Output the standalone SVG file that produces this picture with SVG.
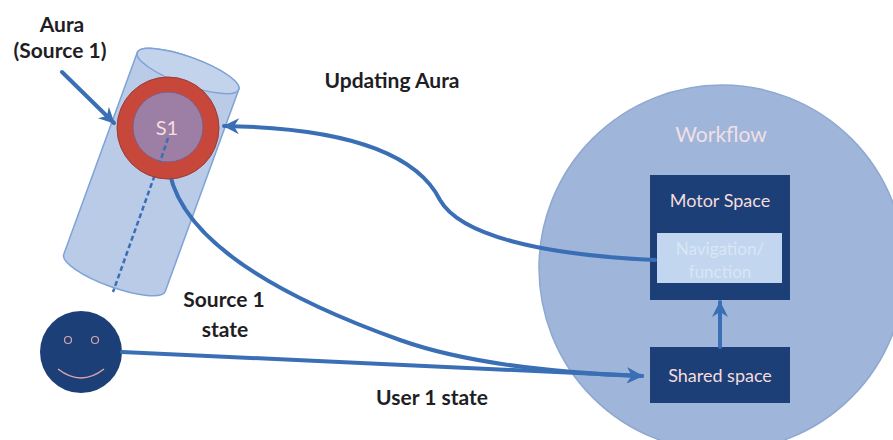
<svg xmlns="http://www.w3.org/2000/svg" width="893" height="440" viewBox="0 0 893 440">
<defs>
<style>
.lbl{font-family:Lato,"Open Sans","DejaVu Sans",sans-serif;font-weight:bold;font-size:21px;fill:#1e1e24;text-anchor:middle}
.box{fill:#1d3f78}
.boxt{font-family:Lato,"Open Sans","DejaVu Sans",sans-serif;font-size:18px;fill:#f3dcdc;text-anchor:middle}
.con{fill:none;stroke:#3a6fb5;stroke-width:4;stroke-linecap:round}
.dash{fill:none;stroke:#3a6fb5;stroke-width:2.5;stroke-dasharray:5,3;stroke-linecap:butt}
</style>
<marker id="ah" viewBox="0 0 17 16" refX="15" refY="8" markerWidth="17" markerHeight="16" markerUnits="userSpaceOnUse" orient="auto">
<path d="M0,0 L16,8 L0,16 L5,8 Z" fill="#3a6fb5"/>
</marker>
</defs>
<rect width="893" height="440" fill="#ffffff"/>

<g id="workflow">
<circle cx="722" cy="268" r="183" fill="#9fb5da" stroke="#8fa8d2" stroke-width="1.5"/>
<text x="721" y="142" font-family="Lato,'Open Sans','DejaVu Sans',sans-serif" font-size="21" fill="#f1e0e4" text-anchor="middle">Workflow</text>
</g>

<g id="motor-space">
<rect class="box" x="650" y="175" width="140" height="125"/>
<text class="boxt" x="720" y="207">Motor Space</text>
</g>

<g id="navigation-function">
<rect x="657" y="233" width="125" height="50" fill="#c2d6ef"/>
<text x="720" y="255" font-family="Lato,'Open Sans','DejaVu Sans',sans-serif" font-size="17" fill="#d9e6f5" text-anchor="middle">Navigation/</text>
<text x="720" y="278" font-family="Lato,'Open Sans','DejaVu Sans',sans-serif" font-size="17" fill="#d9e6f5" text-anchor="middle">function</text>
</g>

<g id="shared-space">
<rect class="box" x="650" y="347" width="140" height="56"/>
<text class="boxt" x="720" y="382">Shared space</text>
</g>

<g id="cylinder">
<g transform="translate(188,71) rotate(20)">
<path d="M-54,0 L-54,215 A54 14 0 0 0 54,215 L54,0 A54 14 0 0 0 -54,0 Z" fill="#b9cbe7" stroke="#7ea3d6" stroke-width="1.5"/>
<ellipse cx="0" cy="0" rx="54" ry="14" fill="#c3d3ec" stroke="#7ea3d6" stroke-width="1.5"/>
</g>
</g>

<g id="user">
<circle cx="81" cy="352" r="41" fill="#1d3f78"/>
<circle cx="68" cy="340" r="3.5" fill="none" stroke="#d9a4aa" stroke-width="1.2"/>
<circle cx="95" cy="340" r="3.5" fill="none" stroke="#d9a4aa" stroke-width="1.2"/>
<path d="M58,369 Q81,387 104,369" fill="none" stroke="#d9a4aa" stroke-width="1.5"/>
</g>

<g id="connectors">
<path class="dash" d="M168,138 L113,292"/>
<path class="con" d="M62,72 L114,123" stroke-width="3" marker-end="url(#ah)"/>
<path class="con" d="M655,260 C540,255 460,235 440,200 C420,160 360,128 224,126" marker-end="url(#ah)"/>
<path class="con" d="M168,160 C172,230 260,290 400,340 C470,365 560,373 642,376" marker-end="url(#ah)"/>
<path class="con" d="M122,352 L642,376" marker-end="url(#ah)"/>
<path class="con" d="M720,347 L720,302" marker-end="url(#ah)"/>
</g>

<g id="aura">
<circle cx="168" cy="128" r="51" fill="#c8473b" stroke="#9a3a3a" stroke-width="1"/>
<circle cx="168" cy="127" r="35" fill="#9d7ea4" stroke="#7d5f86" stroke-width="1"/>
<text x="167" y="135" font-family="Lato,'Open Sans','DejaVu Sans',sans-serif" font-size="20" fill="#f4dede" text-anchor="middle">S1</text>
<path class="dash" d="M168,138 L160,162"/>
</g>

<g id="labels">
<text class="lbl" x="62" y="32">Aura</text>
<text class="lbl" x="60" y="58">(Source 1)</text>
<text class="lbl" x="392" y="88">Updating Aura</text>
<text class="lbl" x="224" y="307">Source 1</text>
<text class="lbl" x="225" y="337">state</text>
<text class="lbl" x="432" y="405">User 1 state</text>
</g>
</svg>
